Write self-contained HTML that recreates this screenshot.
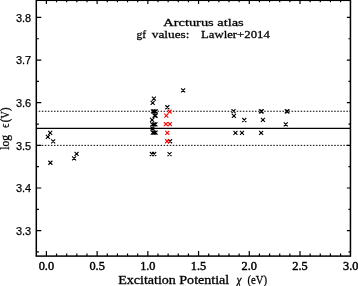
<!DOCTYPE html>
<html><head><meta charset="utf-8"><style>
html,body{margin:0;padding:0;background:#fff;width:358px;height:286px;overflow:hidden}
svg{display:block;will-change:transform}
.sans{font-family:"Liberation Sans",sans-serif;font-size:11px;fill:#000;stroke:#000;stroke-width:0.25px}
.serif{font-family:"Liberation Serif",serif;font-size:11.4px;fill:#000;stroke:#000;stroke-width:0.28px}
.tl{font-size:12.3px;stroke-width:0.45px}
.xl{font-size:11.5px}
.yl{font-size:11.8px}
</style></head><body>
<svg width="358" height="286" viewBox="0 0 358 286">
<rect x="36.3" y="0.3" width="314.15" height="255.80" fill="none" stroke="#000" stroke-width="1.5"/>
<path d="M46.40 256.1V251.10M46.40 0.3V3.90M56.54 256.1V253.50M56.54 0.3V2.30M66.69 256.1V253.50M66.69 0.3V2.30M76.83 256.1V253.50M76.83 0.3V2.30M86.98 256.1V253.50M86.98 0.3V2.30M97.12 256.1V251.10M97.12 0.3V3.90M107.26 256.1V253.50M107.26 0.3V2.30M117.41 256.1V253.50M117.41 0.3V2.30M127.55 256.1V253.50M127.55 0.3V2.30M137.70 256.1V253.50M137.70 0.3V2.30M147.84 256.1V251.10M147.84 0.3V3.90M157.98 256.1V253.50M157.98 0.3V2.30M168.13 256.1V253.50M168.13 0.3V2.30M178.27 256.1V253.50M178.27 0.3V2.30M188.42 256.1V253.50M188.42 0.3V2.30M198.56 256.1V251.10M198.56 0.3V3.90M208.70 256.1V253.50M208.70 0.3V2.30M218.85 256.1V253.50M218.85 0.3V2.30M228.99 256.1V253.50M228.99 0.3V2.30M239.14 256.1V253.50M239.14 0.3V2.30M249.28 256.1V251.10M249.28 0.3V3.90M259.42 256.1V253.50M259.42 0.3V2.30M269.57 256.1V253.50M269.57 0.3V2.30M279.71 256.1V253.50M279.71 0.3V2.30M289.86 256.1V253.50M289.86 0.3V2.30M300.00 256.1V251.10M300.00 0.3V3.90M310.14 256.1V253.50M310.14 0.3V2.30M320.29 256.1V253.50M320.29 0.3V2.30M330.43 256.1V253.50M330.43 0.3V2.30M340.58 256.1V253.50M340.58 0.3V2.30M36.3 251.96H38.90M350.45 251.96H348.45M36.3 230.64H41.30M350.45 230.64H346.85M36.3 209.32H38.90M350.45 209.32H348.45M36.3 188.00H41.30M350.45 188.00H346.85M36.3 166.68H38.90M350.45 166.68H348.45M36.3 145.36H41.30M350.45 145.36H346.85M36.3 124.04H38.90M350.45 124.04H348.45M36.3 102.72H41.30M350.45 102.72H346.85M36.3 81.40H38.90M350.45 81.40H348.45M36.3 60.08H41.30M350.45 60.08H346.85M36.3 38.76H38.90M350.45 38.76H348.45M36.3 17.44H41.30M350.45 17.44H346.85" stroke="#000" stroke-width="1.2" fill="none"/>
<path d="M36.3 128.30H350.45" stroke="#000" stroke-width="1.3"/>
<path d="M36.3 111.25H350.45" stroke="#000" stroke-width="1.0" stroke-dasharray="1.5 1.546" stroke-dashoffset="-5.504"/>
<path d="M36.3 145.36H350.45" stroke="#000" stroke-width="1.0" stroke-dasharray="1.5 1.546" stroke-dashoffset="-5.504"/>
<path d="M48.17 130.94L52.17 134.94M48.17 134.94L52.17 130.94M45.87 134.88L49.87 138.88M45.87 138.88L49.87 134.88M51.17 139.28L55.17 143.28M51.17 143.28L55.17 139.28M48.38 160.75L52.38 164.75M48.38 164.75L52.38 160.75M72.07 156.38L76.07 160.38M72.07 160.38L76.07 156.38M74.59 151.98L78.59 155.98M74.59 155.98L78.59 151.98M151.90 96.60L155.90 100.60M151.90 100.60L155.90 96.60M150.66 100.90L154.66 104.90M150.66 104.90L154.66 100.90M150.90 109.30L154.90 113.30M150.90 113.30L154.90 109.30M152.30 109.30L156.30 113.30M152.30 113.30L156.30 109.30M153.80 109.30L157.80 113.30M153.80 113.30L157.80 109.30M152.60 113.60L156.60 117.60M152.60 117.60L156.60 113.60M153.60 113.60L157.60 117.60M153.60 117.60L157.60 113.60M150.10 117.80L154.10 121.80M150.10 121.80L154.10 117.80M150.30 122.30L154.30 126.30M150.30 126.30L154.30 122.30M152.00 122.30L156.00 126.30M152.00 126.30L156.00 122.30M153.40 122.30L157.40 126.30M153.40 126.30L157.40 122.30M150.50 126.50L154.50 130.50M150.50 130.50L154.50 126.50M150.80 130.60L154.80 134.60M150.80 134.60L154.80 130.60M152.20 130.60L156.20 134.60M152.20 134.60L156.20 130.60M153.60 130.60L157.60 134.60M153.60 134.60L157.60 130.60M149.87 151.99L153.87 155.99M149.87 155.99L153.87 151.99M152.17 151.99L156.17 155.99M152.17 155.99L156.17 151.99M165.33 105.24L169.33 109.24M165.33 109.24L169.33 105.24M168.05 139.24L172.05 143.24M168.05 143.24L172.05 139.24M167.54 152.07L171.54 156.07M167.54 156.07L171.54 152.07M181.12 88.28L185.12 92.28M181.12 92.28L185.12 88.28M231.50 109.03L235.50 113.03M231.50 113.03L235.50 109.03M231.90 113.85L235.90 117.85M231.90 117.85L235.90 113.85M242.25 117.99L246.25 121.99M242.25 121.99L246.25 117.99M233.45 130.87L237.45 134.87M233.45 134.87L237.45 130.87M239.94 130.87L243.94 134.87M239.94 134.87L243.94 130.87M258.90 109.36L262.90 113.36M258.90 113.36L262.90 109.36M259.70 109.36L263.70 113.36M259.70 113.36L263.70 109.36M260.92 117.94L264.92 121.94M260.92 121.94L264.92 117.94M259.12 130.90L263.12 134.90M259.12 134.90L263.12 130.90M284.80 109.36L288.80 113.36M284.80 113.36L288.80 109.36M285.50 109.36L289.50 113.36M285.50 113.36L289.50 109.36M283.75 122.28L287.75 126.28M283.75 126.28L287.75 122.28" stroke="#000" stroke-width="1.1" fill="none"/>
<path d="M167.64 109.55L171.64 113.55M167.64 113.55L171.64 109.55M164.30 113.70L168.30 117.70M164.30 117.70L168.30 113.70M163.87 122.19L167.87 126.19M163.87 126.19L167.87 122.19M167.85 122.19L171.85 126.19M167.85 126.19L171.85 122.19M165.33 130.93L169.33 134.93M165.33 134.93L169.33 130.93M165.10 139.24L169.10 143.24M165.10 143.24L169.10 139.24" stroke="#f00" stroke-width="1.1" fill="none"/>
<text x="31.2" y="234.84" text-anchor="end" class="sans">3.3</text>
<text x="31.2" y="192.20" text-anchor="end" class="sans">3.4</text>
<text x="31.2" y="149.56" text-anchor="end" class="sans">3.5</text>
<text x="31.2" y="106.92" text-anchor="end" class="sans">3.6</text>
<text x="31.2" y="64.28" text-anchor="end" class="sans">3.7</text>
<text x="31.2" y="21.64" text-anchor="end" class="sans">3.8</text>
<text x="46.40" y="269.8" text-anchor="middle" class="serif tl">0.0</text>
<text x="97.12" y="269.8" text-anchor="middle" class="serif tl">0.5</text>
<text x="147.84" y="269.8" text-anchor="middle" class="serif tl">1.0</text>
<text x="198.56" y="269.8" text-anchor="middle" class="serif tl">1.5</text>
<text x="249.28" y="269.8" text-anchor="middle" class="serif tl">2.0</text>
<text x="300.00" y="269.8" text-anchor="middle" class="serif tl">2.5</text>
<text x="350.72" y="269.8" text-anchor="middle" class="serif tl">3.0</text>
<text x="163.3" y="25.6" class="serif" textLength="80.4" lengthAdjust="spacingAndGlyphs">Arcturus atlas</text>
<text x="136.4" y="37.6" class="serif" textLength="9.6" lengthAdjust="spacingAndGlyphs">gf</text>
<text x="151.8" y="37.6" class="serif" textLength="37.7" lengthAdjust="spacingAndGlyphs">values:</text>
<text x="201.0" y="37.6" class="serif" textLength="68.8" lengthAdjust="spacingAndGlyphs">Lawler+2014</text>
<text x="118.2" y="283.8" class="serif xl" textLength="111.0" lengthAdjust="spacingAndGlyphs">Excitation Potential</text>
<text x="236.5" y="283.8" class="serif xl" font-style="italic">&#967;</text>
<text x="247.4" y="283.8" class="serif xl" textLength="19.6" lengthAdjust="spacingAndGlyphs">(eV)</text>
<text transform="translate(9.0 149.8) rotate(-90)" class="serif yl" textLength="14.8" lengthAdjust="spacingAndGlyphs">log</text>
<text transform="translate(9.0 127.9) rotate(-90)" class="serif yl" textLength="4.4" lengthAdjust="spacingAndGlyphs">&#1013;</text>
<text transform="translate(9.0 122.2) rotate(-90)" class="serif yl" textLength="14.6" lengthAdjust="spacingAndGlyphs">(V)</text>
</svg>
</body></html>
